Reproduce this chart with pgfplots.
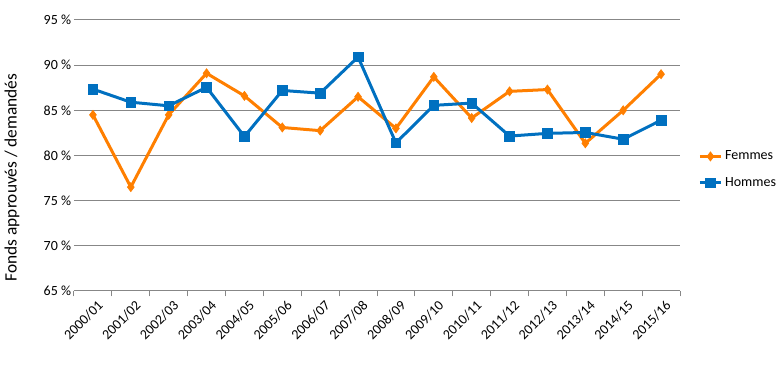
\documentclass[border=0pt]{standalone}
\usepackage{pgfplots}
\pgfplotsset{compat=1.18}
\usepackage{fontspec}
\setmainfont{Carlito}
\definecolor{forange}{HTML}{FF7F00}
\definecolor{hblue}{HTML}{0070C0}
\definecolor{gridgray}{HTML}{878787}
\begin{document}
\begin{tikzpicture}
\path[use as bounding box] (0,0) rectangle (587.25pt,288pt);
\begin{axis}[
  at={(55.5pt,69.75pt)}, anchor=south west,
  scale only axis, width=454.5pt, height=203.25pt,
  xmin=-0.5, xmax=15.5, ymin=65, ymax=95,
  ytick={65,70,...,95},
  yticklabel={\pgfmathprintnumber{\tick}~\%},
  /pgf/number format/assume math mode=true,
  xtick={0,...,15},
  xticklabels={2000/01,2001/02,2002/03,2003/04,2004/05,2005/06,2006/07,2007/08,2008/09,2009/10,2010/11,2011/12,2012/13,2013/14,2014/15,2015/16},
  minor xtick={-0.5,0.5,...,15.5},
  major x tick style={draw=none},
  minor x tick style={draw=gridgray, line width=0.75pt},
  minor tick length=4pt,
  xtick align=outside,
  ymajorgrids, grid style={gridgray, line width=0.75pt},
  ytick style={draw=none},
  axis x line*=bottom, axis y line*=left,
  x axis line style={draw=gridgray, line width=0.75pt, -},
  y axis line style={draw=none},
  tick label style={font=\fontsize{10.5pt}{12pt}\selectfont},
  xticklabel style={rotate=45, anchor=north east, inner sep=1pt, xshift=1.5pt, yshift=-2.5pt},
  yticklabel style={inner sep=2pt},
  legend style={draw=none, fill=none, at={(1.03,0.448)}, anchor=west,
    font=\fontsize{10.5pt}{12pt}\selectfont, row sep=7.5pt, inner sep=0pt},
  legend cell align=left,
  legend image code/.code={\draw[mark repeat=2,mark phase=2,#1] plot coordinates {(0pt,0pt) (7.875pt,0pt) (15.75pt,0pt)};},
]
\addplot[color=forange, line width=2.25pt, mark=diamond*, mark size=3.4pt, mark options={solid, line width=0.5pt}] coordinates {
(0,84.5) (1,76.5) (2,84.5) (3,89.1) (4,86.6) (5,83.1) (6,82.75) (7,86.5)
(8,83.0) (9,88.7) (10,84.15) (11,87.1) (12,87.3) (13,81.35) (14,85.0) (15,89.0)};
\addlegendentry{Femmes}
\addplot[color=hblue, line width=2.25pt, mark=square*, mark size=3.6pt, mark options={solid, line width=0.5pt}] coordinates {
(0,87.35) (1,85.9) (2,85.5) (3,87.55) (4,82.1) (5,87.2) (6,86.9) (7,90.9)
(8,81.4) (9,85.55) (10,85.8) (11,82.15) (12,82.45) (13,82.55) (14,81.8) (15,83.9)};
\addlegendentry{Hommes}
\end{axis}
\node[rotate=90, font=\fontsize{13pt}{15pt}\selectfont] at (9pt,154.9pt) {Fonds approuvés / demandés};
\end{tikzpicture}
\end{document}
